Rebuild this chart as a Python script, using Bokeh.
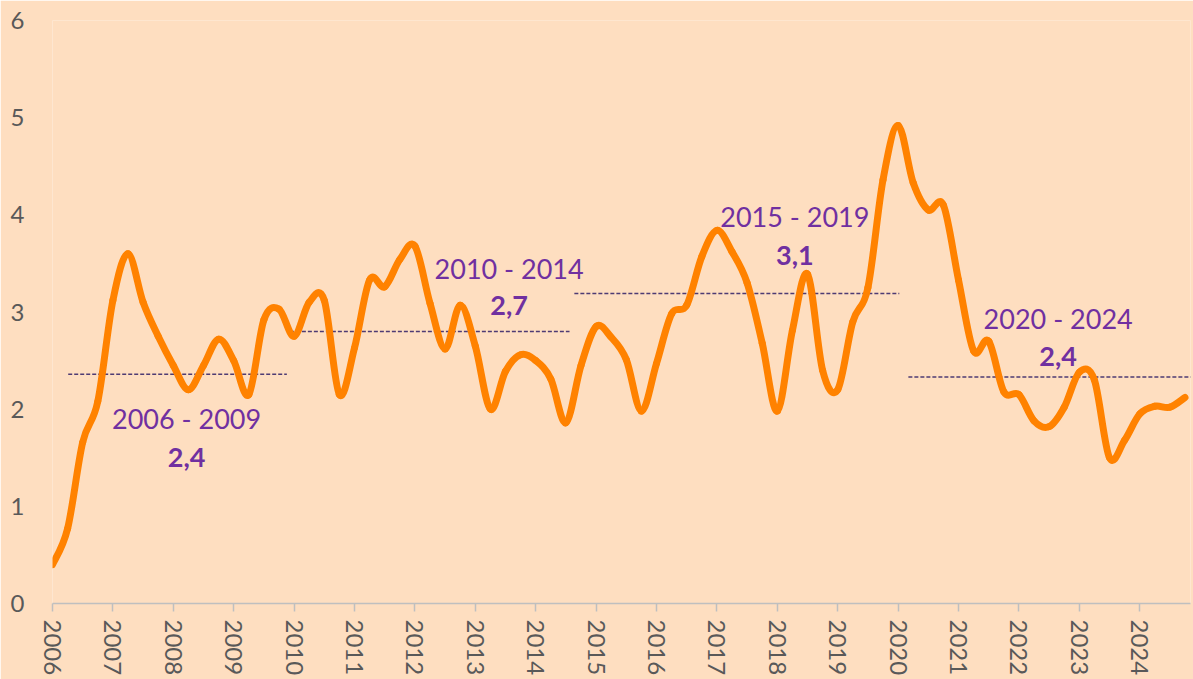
import numpy as np
from bokeh.plotting import figure
from bokeh.models import Range1d, FixedTicker, ColumnDataSource
from bokeh.core.properties import value
from bokeh.embed import file_html
from bokeh.resources import INLINE

# ---------------- data ----------------
quarters = [f"{y}-Q{q}" for y in range(2006, 2025) for q in range(1, 5)]
rate = [0.40, 0.77, 1.66, 2.08, 3.12, 3.60, 3.10, 2.75,
        2.45, 2.20, 2.45, 2.72, 2.50, 2.15, 2.92, 3.03,
        2.75, 3.10, 3.12, 2.15, 2.63, 3.33, 3.26, 3.54,
        3.68, 3.09, 2.62, 3.07, 2.65, 2.00, 2.39, 2.56,
        2.50, 2.31, 1.86, 2.45, 2.85, 2.74, 2.51, 1.98,
        2.47, 2.98, 3.07, 3.57, 3.84, 3.62, 3.30, 2.68,
        1.98, 2.81, 3.39, 2.40, 2.20, 2.90, 3.25, 4.36,
        4.92, 4.33, 4.05, 4.10, 3.33, 2.60, 2.70, 2.18,
        2.15, 1.88, 1.82, 2.02, 2.38, 2.30, 1.50, 1.68,
        1.95, 2.03, 2.02, 2.12]
year_ticks = list(range(2006, 2025))
y_ticks = [0, 1, 2, 3, 4, 5, 6]

period_labels = ["2006 - 2009", "2010 - 2014", "2015 - 2019", "2020 - 2024"]
period_avg_text = ["2,4", "2,7", "3,1", "2,4"]
period_level = [2.36, 2.80, 3.19, 2.33]
period_start = [2006.26, 2009.93, 2014.64, 2020.17]
period_end = [2009.88, 2014.56, 2020.02, 2024.95]

# annotation placement
label_x = [2008.22, 2013.56, 2018.29, 2022.65]
label_y = [1.90, 3.45, 3.98, 2.93]
value_y = [1.50, 3.07, 3.58, 2.54]

# ---------------- styling ----------------
BG = "#FEDEC0"
ORANGE = "#FF8200"
PURPLE = "#7030A0"
DASH = "#4E3B73"
GREY = "#595959"
FONT = "Lato"

# quarter -> decimal year position
xq = np.array([int(s[:4]) + (int(s[-1]) - 1) * 0.25 for s in quarters])
yq = np.array(rate)

# smoothed line (Excel-like) through the data points, as cubic Bezier segments
n = len(xq)
xp = np.concatenate([[xq[0]], xq, [xq[-1]]])
yp = np.concatenate([[yq[0]], yq, [yq[-1]]])
seg = ColumnDataSource(dict(
    x0=xq[:-1], y0=yq[:-1], x1=xq[1:], y1=yq[1:],
    cx0=xq[:-1] + (xp[2:n + 1] - xp[0:n - 1]) / 6.0,
    cy0=yq[:-1] + (yp[2:n + 1] - yp[0:n - 1]) / 6.0,
    cx1=xq[1:] - (xp[3:n + 2] - xp[1:n]) / 6.0,
    cy1=yq[1:] - (yp[3:n + 2] - yp[1:n]) / 6.0,
))

W, H = 1193, 679
BL, BR, BT, BB = 52, 3, 20, 76
p = figure(width=W, height=H, output_backend="svg", toolbar_location=None,
           x_range=Range1d(2006, 2006 + (W - BL - BR) / 60.4),
           y_range=Range1d(0, 6),
           min_border_left=BL, min_border_right=BR, min_border_top=BT,
           min_border_bottom=BB)
p.background_fill_color = BG
p.border_fill_color = BG
p.outline_line_color = None
p.xgrid.grid_line_color = None
p.ygrid.grid_line_color = None

# axes
p.yaxis.ticker = FixedTicker(ticks=y_ticks)
p.yaxis.axis_line_color = None
p.yaxis.major_tick_line_color = None
p.yaxis.minor_tick_line_color = None
p.yaxis.major_label_standoff = 22
p.yaxis.major_label_text_font = FONT
p.yaxis.major_label_text_font_size = "24px"
p.yaxis.major_label_text_color = GREY

p.xaxis.ticker = FixedTicker(ticks=year_ticks)
p.xaxis.axis_line_color = "#BFBFBF"
p.xaxis.axis_line_width = 1.5
p.xaxis.major_tick_line_color = "#BFBFBF"
p.xaxis.major_tick_line_width = 1.5
p.xaxis.major_tick_in = 0
p.xaxis.major_tick_out = 8
p.xaxis.minor_tick_line_color = None
p.xaxis.major_label_orientation = "vertical"
p.xaxis.major_label_standoff = 8
p.xaxis.major_label_text_font = FONT
p.xaxis.major_label_text_font_size = "24px"
p.xaxis.major_label_text_color = GREY

# period average dashed lines
p.segment(x0=period_start, x1=period_end, y0=period_level, y1=period_level,
          line_color=DASH, line_width=1.5, line_dash="4 2")

# main line
p.bezier(x0="x0", y0="y0", x1="x1", y1="y1", cx0="cx0", cy0="cy0",
         cx1="cx1", cy1="cy1", source=seg,
         line_color=ORANGE, line_width=7, line_cap="round")

# period labels
p.text(x=label_x, y=label_y, text=period_labels, text_font=value(FONT),
       text_font_size="27px", text_color=PURPLE, text_align="center",
       text_baseline="middle")
p.text(x=label_x, y=value_y, text=period_avg_text, text_font=value(FONT),
       text_font_size="27px", text_font_style="bold", text_color=PURPLE,
       text_align="center", text_baseline="middle")

html = file_html(p, INLINE)
html = html.replace("<body>", f'<body style="background-color:{BG}; margin:0;">', 1)
open("out.html", "w").write(html)
